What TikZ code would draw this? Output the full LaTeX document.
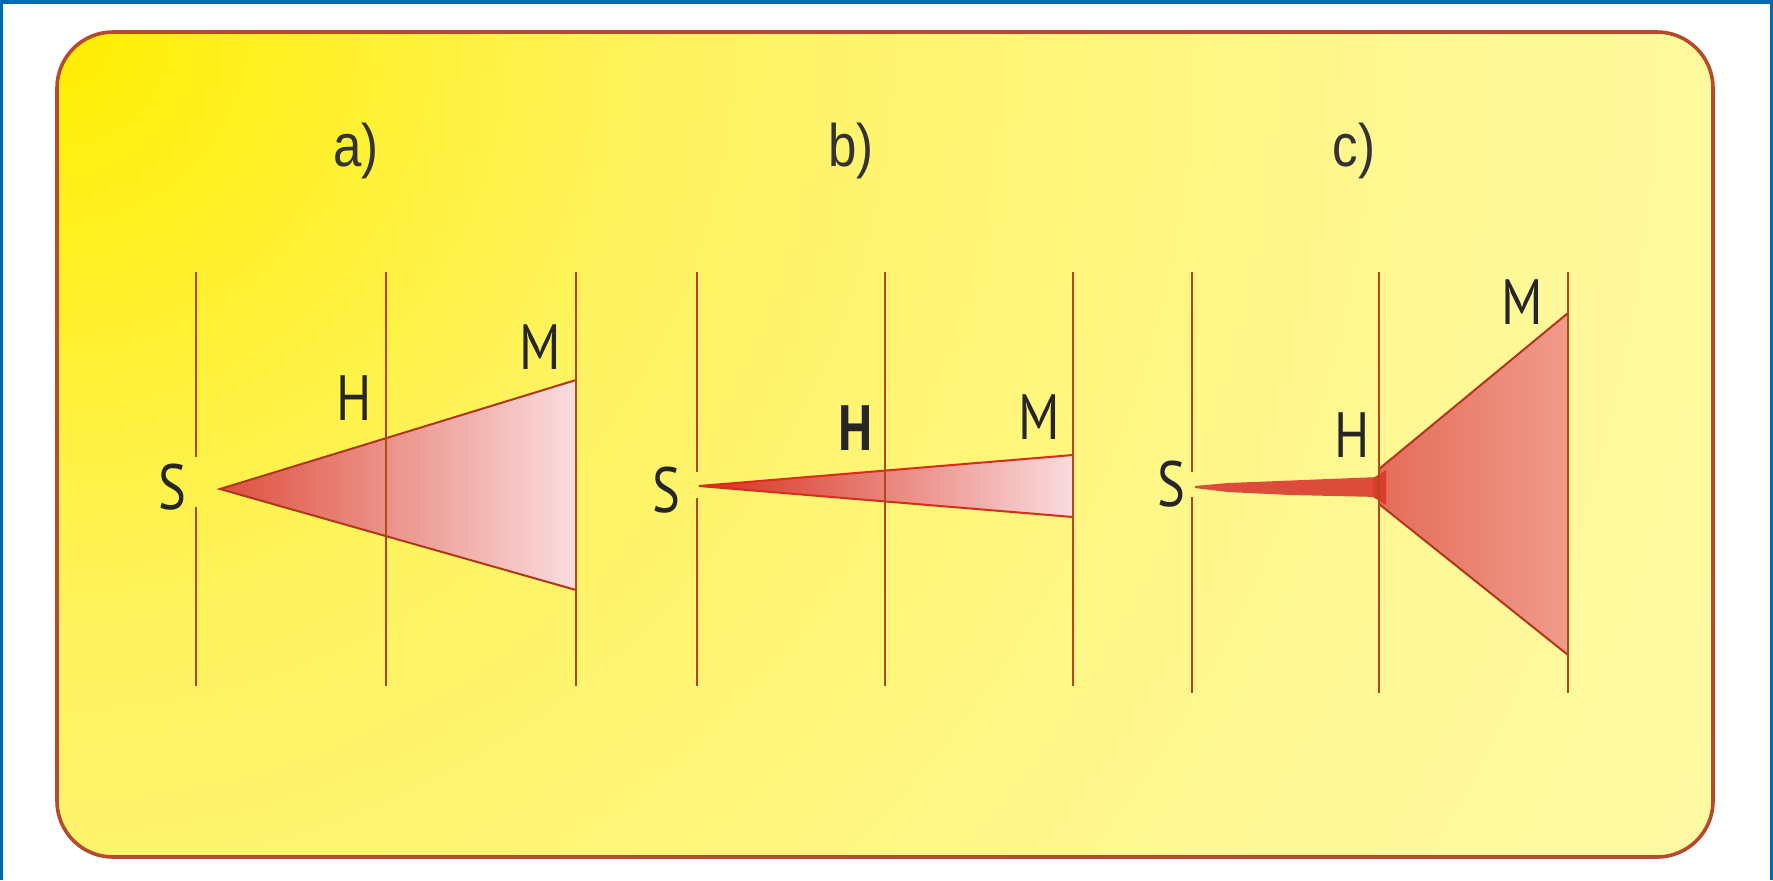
\documentclass[tikz,border=0pt]{standalone}
\usepackage{fontspec}
\newfontfamily\lblfont[FakeStretch=0.82]{PT Sans}
\newfontfamily\capfont[FakeStretch=0.85]{Liberation Sans}
\definecolor{frameblue}{RGB}{0,105,180}
\definecolor{bgA}{RGB}{255,238,0}
\definecolor{bgB}{RGB}{255,243,95}
\definecolor{bgC}{RGB}{255,248,148}
\definecolor{bgD}{RGB}{252,250,175}
\definecolor{bgE}{RGB}{253,252,200}
\definecolor{bgF}{RGB}{254,254,225}
\definecolor{boxline}{RGB}{180,75,45}
\definecolor{vlinec}{RGB}{178,70,30}
\definecolor{edgec}{RGB}{175,55,30}
\definecolor{redA}{RGB}{222,80,62}
\definecolor{redM}{RGB}{236,145,128}
\definecolor{redP}{RGB}{250,220,222}
\definecolor{redB}{RGB}{215,45,25}
\definecolor{redBm}{RGB}{235,110,90}
\definecolor{coneA}{RGB}{228,108,88}
\definecolor{coneB}{RGB}{240,155,140}
\pgfdeclareradialshading{bgshade}{\pgfpoint{0bp}{0bp}}{color(0bp)=(bgA); color(7.5bp)=(bgB); color(17.5bp)=(bgC); color(27.5bp)=(bgD); color(40bp)=(bgE); color(50bp)=(bgF)}
\tikzset{
  vline/.style={draw=vlinec, line width=1.4pt},
  edgeline/.style={draw=edgec, line width=1pt, line join=miter},
  lbl/.style={inner sep=0pt, font=\lblfont\fontsize{32}{36}\selectfont, text=black!85},
  captext/.style={inner sep=0pt, font=\capfont\fontsize{30}{34}\selectfont, text=black!80},
}
\begin{document}
\begin{tikzpicture}[x=0.5pt,y=-0.5pt]
\useasboundingbox (0,0) rectangle (1773,880);
\fill[white] (0,0) rectangle (1773,880);
\fill[frameblue] (0,0) rectangle (1773,4);
\fill[frameblue] (0,0) rectangle (3,880);
\fill[frameblue] (1770,0) rectangle (1773,880);
% background box
\begin{scope}
\clip[rounded corners=28pt] (57,32) rectangle (1713,857);
\shade[shading=bgshade] (57,32) circle (2000);
\end{scope}
\draw[draw=boxline, line width=1.8pt, rounded corners=28pt] (57,32) rectangle (1713,857);
% captions
\node[captext] (la) at (356,151) {a)};
\node[captext] (lb) at (851,151) {b)};
\node[captext] (lc) at (1354,151) {c)};
% ---------- panel a ----------
\shade[left color=redA, middle color=redM, right color=redP] (220,489) -- (576,380) -- (576,590) -- cycle;
\draw[edgeline] (576,380) -- (220,489) -- (576,590);
\draw[vline] (196,272) -- (196,457) (196,507) -- (196,686);
\draw[vline] (386,272) -- (386,686);
\draw[vline] (576,272) -- (576,686);
\node[lbl] (Sa) at (172,487) {S};
\node[lbl] (Ha) at (354,398) {H};
\node[lbl] (Ma) at (540,347) {M};
% ---------- panel b ----------
\shade[left color=redB, middle color=redBm, right color=redP] (699,486) -- (1073,455) -- (1073,517) -- cycle;
\draw[draw=redB, line width=1pt] (1073,455) -- (699,486) -- (1073,517);
\draw[vline] (697,272) -- (697,472) (697,498) -- (697,686);
\draw[vline] (885,272) -- (885,686);
\draw[vline] (1073,272) -- (1073,686);
\node[lbl] (Sb) at (666,490) {S};
\node[lbl, font=\lblfont\bfseries\fontsize{32}{36}\selectfont] (Hb) at (856,428) {H};
\node[lbl] (Mb) at (1039,417) {M};
% ---------- panel c ----------
\shade[left color=coneA, right color=coneB] (1379,469) -- (1568,313) -- (1568,655) -- (1379,504) -- cycle;
\fill[redB!85!white] (1195,486) -- (1228,483) -- (1379,477) -- (1379,497) -- (1290,495) -- (1228,492) -- (1195,488) -- cycle;
\fill[redB!75!coneA] (1373,478) -- (1386,470) -- (1386,505) -- (1373,497) -- cycle;
\draw[edgeline] (1568,313) -- (1379,469);
\draw[edgeline] (1379,504) -- (1568,655);
\draw[vline] (1192,272) -- (1192,472) (1192,497) -- (1192,693);
\draw[vline] (1379,272) -- (1379,693);
\draw[vline] (1568,272) -- (1568,693);
\node[lbl] (Sc) at (1171,484) {S};
\node[lbl] (Hc) at (1352,435) {H};
\node[lbl] (Mc) at (1522,302) {M};
\end{tikzpicture}
\end{document}
